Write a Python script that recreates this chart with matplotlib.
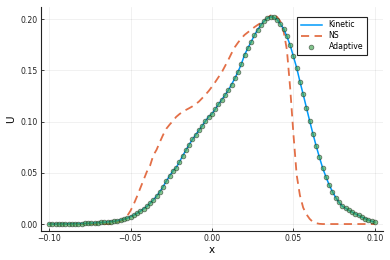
import numpy as np
import matplotlib
matplotlib.use("Agg")
import matplotlib.pyplot as plt

# grid of cell positions (step 0.002 from -0.1 to 0.1)
x = np.round(np.arange(-0.100, 0.1001, 0.002), 4)

kinetic = [
    0.0000, 0.0000, 0.0000, 0.0001, 0.0001, 0.0001, 0.0002, 0.0002, 0.0003, 0.0004,  # -0.100..-0.082
    0.0005, 0.0006, 0.0007, 0.0009, 0.0011, 0.0013, 0.0016, 0.0018, 0.0021, 0.0024,  # -0.080..-0.062
    0.0027, 0.0033, 0.0040, 0.0048, 0.0058, 0.0072, 0.0087, 0.0105, 0.0125, 0.0148,  # -0.060..-0.042
    0.0172, 0.0203, 0.0236, 0.0272, 0.0315, 0.0365, 0.0420, 0.0470, 0.0518, 0.0550,  # -0.040..-0.022
    0.0605, 0.0665, 0.0720, 0.0775, 0.0825, 0.0870, 0.0915, 0.0958, 0.1005, 0.1048,  # -0.020..-0.002
    0.1075, 0.1120, 0.1170, 0.1212, 0.1258, 0.1305, 0.1360, 0.1420, 0.1485, 0.1560,  # 0.000..0.018
    0.1650, 0.1715, 0.1775, 0.1840, 0.1895, 0.1940, 0.1980, 0.2008, 0.2022, 0.2015,  # 0.020..0.038
    0.1995, 0.1950, 0.1905, 0.1830, 0.1745, 0.1635, 0.1525, 0.1390, 0.1265, 0.1135,  # 0.040..0.058
    0.1005, 0.0880, 0.0760, 0.0650, 0.0545, 0.0460, 0.0380, 0.0315, 0.0258, 0.0213,  # 0.060..0.078
    0.0175, 0.0155, 0.0135, 0.0117, 0.0100, 0.0085, 0.0068, 0.0053, 0.0040, 0.0028,  # 0.080..0.098
    0.0018,                                                                          # 0.100
]

ns = [
    0.0, 0.0, 0.0, 0.0, 0.0, 0.0, 0.0, 0.0, 0.0, 0.0,                                # -0.100..-0.082
    0.0, 0.0, 0.0, 0.0, 0.0, 0.0, 0.0, 0.0, 0.0, 0.0002,                             # -0.080..-0.062
    0.0010, 0.0018, 0.0030, 0.0048, 0.0080, 0.0130, 0.0195, 0.0270, 0.0350, 0.0430,  # -0.060..-0.042
    0.0510, 0.0570, 0.0670, 0.0725, 0.0800, 0.0870, 0.0930, 0.0970, 0.1005, 0.1045,  # -0.040..-0.022
    0.1072, 0.1095, 0.1113, 0.1130, 0.1148, 0.1170, 0.1195, 0.1228, 0.1262, 0.1298,  # -0.020..-0.002
    0.1340, 0.1385, 0.1433, 0.1480, 0.1540, 0.1600, 0.1665, 0.1725, 0.1770, 0.1810,  # 0.000..0.018
    0.1845, 0.1870, 0.1895, 0.1920, 0.1942, 0.1962, 0.1985, 0.2010, 0.2035, 0.2040,  # 0.020..0.038
    0.2020, 0.1975, 0.1880, 0.1700, 0.1330, 0.0880, 0.0480, 0.0280, 0.0160, 0.0095,  # 0.040..0.058
    0.0050, 0.0020, 0.0008, 0.0002, 0.0, 0.0, 0.0, 0.0, 0.0, 0.0,                    # 0.060..0.078
    0.0, 0.0, 0.0, 0.0, 0.0, 0.0, 0.0, 0.0, 0.0, 0.0,                                # 0.080..0.098
    0.0,                                                                             # 0.100
]

adaptive = kinetic

xticks = [-0.10, -0.05, 0.00, 0.05, 0.10]
xticklabels = ["\u22120.10", "\u22120.05", "0.00", "0.05", "0.10"]
yticks = [0.00, 0.05, 0.10, 0.15, 0.20]
yticklabels = ["0.00", "0.05", "0.10", "0.15", "0.20"]

plt.rcParams['font.family'] = ['DejaVu Sans']

fig = plt.figure(figsize=(3.9, 2.6), dpi=100)
ax = fig.add_axes([0.105, 0.1115, 0.877, 0.8615])

ax.plot(x, kinetic, color='#009AFA', lw=1.1, label='Kinetic', zorder=3)
ax.plot(x, ns, color='#E36F47', lw=1.3, ls=(0, (4.5, 3)), label='NS', zorder=2)
ax.scatter(x, adaptive, s=12, color='#3DA44D', alpha=0.65, edgecolors='#1a1a1a',
           linewidths=0.45, label='Adaptive', zorder=4)

ax.set_xlim(-0.105, 0.105)
ax.set_ylim(-0.0068, 0.2117)
ax.set_xticks(xticks)
ax.set_xticklabels(xticklabels)
ax.set_yticks(yticks)
ax.set_yticklabels(yticklabels)

for s in ['top', 'right']:
    ax.spines[s].set_visible(False)
for s in ['left', 'bottom']:
    ax.spines[s].set_linewidth(0.8)
    ax.spines[s].set_color('#222222')

ax.tick_params(direction='in', length=2.5, width=0.6, labelsize=5.6, colors='#222222', pad=2.5)
ax.grid(True, color='black', alpha=0.08, lw=0.5)
ax.set_axisbelow(True)

ax.set_xlabel('x', fontsize=7.5, labelpad=1)
ax.set_ylabel('U', fontsize=7.5, labelpad=3)

leg = ax.legend(loc='upper right', fontsize=5.6, frameon=True, fancybox=False,
                edgecolor='#222222', framealpha=1.0, borderpad=0.5,
                handlelength=2.8, labelspacing=0.25, bbox_to_anchor=(0.965, 0.975))
leg.get_frame().set_linewidth(0.8)

fig.savefig('out.png', dpi=100)
